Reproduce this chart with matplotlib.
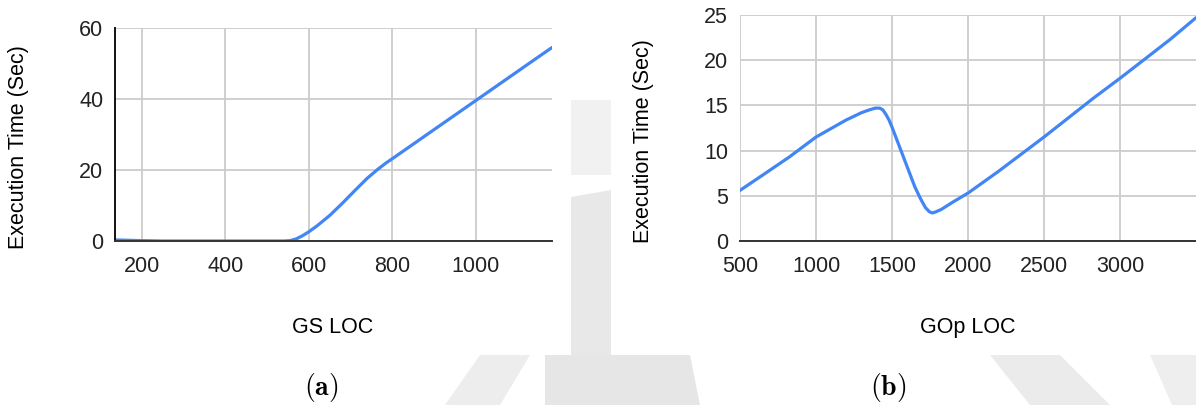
"""Execution time vs LOC for GS and GOp (two panels, Google-Sheets style)."""

import matplotlib

matplotlib.use("Agg")
import matplotlib.pyplot as plt
from matplotlib.patches import Polygon

# ---- data ----
gs_loc = [136, 200, 250, 300, 400, 500, 540, 555, 570, 585, 600, 620, 650, 680,
          710, 740, 765, 785, 800, 850, 900, 950, 1000, 1050, 1100, 1150, 1182]
gs_time = [0.3, 0.1, 0.0, 0.0, 0.0, 0.0, 0.0, 0.1, 0.6, 1.5, 2.6, 4.3, 7.2, 10.6,
           14.2, 17.7, 20.2, 22.0, 23.2, 27.3, 31.4, 35.5, 39.6, 43.7, 47.8,
           51.9, 54.5]

gop_loc = [500, 650, 825, 1000, 1200, 1300, 1350, 1390, 1420, 1440, 1460,
           1480, 1500, 1575, 1650, 1690, 1720, 1745, 1765, 1785, 1825, 1900,
           2000, 2200, 2500, 2825, 3000, 3200, 3330, 3500]
gop_time = [5.6, 7.3, 9.3, 11.5, 13.4, 14.2, 14.5, 14.7, 14.7, 14.5, 14.0,
            13.4, 12.6, 9.3, 6.0, 4.6, 3.7, 3.25, 3.1, 3.2, 3.5, 4.3,
            5.3, 7.7, 11.5, 15.8, 18.0, 20.6, 22.3, 24.7]

gs_xticks = [200, 400, 600, 800, 1000]
gs_yticks = [0, 20, 40, 60]
gop_xticks = [500, 1000, 1500, 2000, 2500, 3000]
gop_yticks = [0, 5, 10, 15, 20, 25]

W, H = 1196, 405
BLUE = "#4285f4"
GRID = "#cccccc"
FS = 15.5

plt.rcParams["font.family"] = ["Liberation Sans", "DejaVu Sans"]


def rect(x0, y0, x1, y1):
    return [x0 / W, 1 - y1 / H, (x1 - x0) / W, (y1 - y0) / H]


def fx(x):
    return x / W


def fy(y):
    return 1 - y / H


fig = plt.figure(figsize=(W / 100, H / 100), dpi=100)

# faint watermark behind the panels
marks = [
    ([(571, 100), (611, 100), (611, 175), (571, 175)], "#f1f1f1"),
    ([(571, 197), (611, 190), (611, 355), (571, 355)], "#e8e8e8"),
    ([(480, 355), (530, 355), (500, 405), (445, 405)], "#ededed"),
    ([(545, 355), (690, 355), (700, 405), (545, 405)], "#e6e6e6"),
    ([(990, 355), (1060, 355), (1110, 405), (1030, 405)], "#ebebeb"),
    ([(1150, 355), (1196, 355), (1196, 405), (1172, 405)], "#eeeeee"),
]
for pts, col in marks:
    fig.add_artist(Polygon([(fx(x), fy(y)) for x, y in pts], closed=True,
                           transform=fig.transFigure, facecolor=col,
                           edgecolor="none", zorder=-5))

ax1 = fig.add_axes(rect(115, 28, 552, 241))
ax2 = fig.add_axes(rect(740, 15, 1196, 241))

panels = [
    (ax1, gs_loc, gs_time, gs_xticks, gs_yticks, (136, 1182), (0, 60)),
    (ax2, gop_loc, gop_time, gop_xticks, gop_yticks, (500, 3500), (0, 25)),
]
for ax, x, y, xt, yt, xl, yl in panels:
    ax.set_facecolor("none")
    ax.plot(x, y, color=BLUE, lw=2.3, solid_capstyle="round",
            solid_joinstyle="round")
    ax.set_xlim(*xl)
    ax.set_ylim(*yl)
    ax.set_xticks(xt)
    ax.set_yticks(yt)
    ax.grid(True, color=GRID, lw=1.3)
    ax.set_axisbelow(True)
    for s in ("top", "right"):
        ax.spines[s].set_visible(False)
    ax.spines["bottom"].set_color("#333333")
    ax.spines["bottom"].set_linewidth(1.4)
    ax.tick_params(length=0, labelsize=FS, colors="#222222")
    ax.tick_params(axis="y", pad=8.5)
    ax.tick_params(axis="x", pad=11)

ax1.spines["left"].set_color("#111111")
ax1.spines["left"].set_linewidth(1.4)
ax2.spines["left"].set_visible(False)

fig.text(fx(333), fy(333), "GS LOC", ha="center", va="baseline", fontsize=FS)
fig.text(fx(968), fy(333), "GOp LOC", ha="center", va="baseline", fontsize=FS)
fig.text(fx(19), fy(147), "Execution Time (Sec)", rotation=90,
         ha="center", va="center", fontsize=FS)
fig.text(fx(644), fy(141), "Execution Time (Sec)", rotation=90,
         ha="center", va="center", fontsize=FS)

fig.text(fx(321), fy(387), r"$\mathbf{(a)}$", math_fontfamily="cm",
         ha="center", va="center", fontsize=20)
fig.text(fx(888), fy(387), r"$\mathbf{(b)}$", math_fontfamily="cm",
         ha="center", va="center", fontsize=20)

fig.savefig("out.png", dpi=100)
